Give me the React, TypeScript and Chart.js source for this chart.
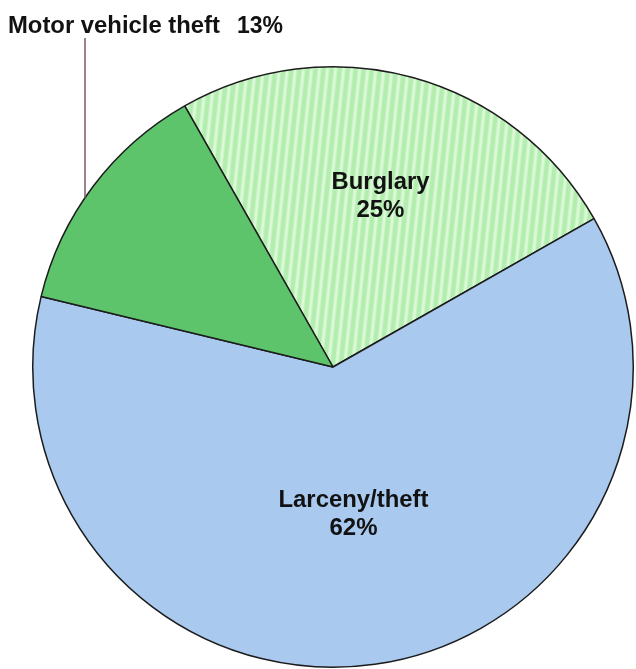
import React, { useEffect, useRef } from "react";
import { Chart, registerables } from "chart.js";

Chart.register(...registerables);

const categories = ["Burglary", "Larceny/theft", "Motor vehicle theft"];
const percentages = [25, 62, 13];
const percentLabels = ["25%", "62%", "13%"];
const sliceColors = ["#b5eeb2", "#a9c9ef", "#5dc46c"];

export default function App() {
  const ref = useRef<HTMLCanvasElement>(null);

  useEffect(() => {
    const canvas = ref.current!;
    const ctx = canvas.getContext("2d")!;

    // striped fill for Burglary
    const pc = document.createElement("canvas");
    pc.width = 8;
    pc.height = 8;
    const p = pc.getContext("2d")!;
    p.fillStyle = "#b3edb0";
    p.fillRect(0, 0, 8, 8);
    p.fillStyle = "#caf5c6";
    p.fillRect(3, 0, 1, 8);
    p.fillRect(6, 0, 1, 8);
    p.fillStyle = "#dcf9d8";
    p.fillRect(4, 0, 2, 8);
    const pattern = ctx.createPattern(pc, "repeat")!;
    try {
      pattern.setTransform(new DOMMatrix().rotate(6));
    } catch (e) {}

    const fills: any[] = [pattern, sliceColors[1], sliceColors[2]];

    const labelPlugin = {
      id: "sliceLabels",
      afterDatasetsDraw(chart: any) {
        const meta = chart.getDatasetMeta(0);
        const c = chart.ctx as CanvasRenderingContext2D;
        c.save();
        c.fillStyle = "#121212";
        c.font = "bold 24px 'Liberation Sans', Arial, sans-serif";
        c.textAlign = "center";
        c.textBaseline = "alphabetic";
        const radiusFrac = [0.595, 0.49];
        const maxW = [98, 150];
        meta.data.forEach((arc: any, i: number) => {
          const { x, y, startAngle, endAngle, outerRadius } = arc.getProps(
            ["x", "y", "startAngle", "endAngle", "outerRadius"],
            true
          );
          if (i < 2) {
            const mid = (startAngle + endAngle) / 2;
            const lx = x + Math.cos(mid) * radiusFrac[i] * outerRadius;
            const ly = y + Math.sin(mid) * radiusFrac[i] * outerRadius;
            c.fillText(categories[i], lx, ly - 6, maxW[i]);
            c.fillText(percentLabels[i], lx, ly + 22);
          } else {
            // outside label with leader line
            c.textAlign = "left";
            c.fillText(categories[i], 8, 33, 212);
            c.fillText(percentLabels[i], 237, 33, 46);
            const lineX = 85;
            const dx = lineX - x;
            const edgeY = y - Math.sqrt(Math.max(outerRadius * outerRadius - dx * dx, 0));
            c.strokeStyle = "#7d5a6e";
            c.lineWidth = 1.5;
            c.beginPath();
            c.moveTo(lineX, 38);
            c.lineTo(lineX, edgeY);
            c.stroke();
          }
        });
        c.restore();
      },
    };

    const chart = new Chart(canvas, {
      type: "pie",
      data: {
        labels: categories,
        datasets: [
          {
            data: percentages,
            backgroundColor: fills,
            borderColor: "#1c1c1c",
            borderWidth: 1.5,
            hoverOffset: 0,
          },
        ],
      },
      options: {
        responsive: false,
        animation: false,
        rotation: -29.6,
        layout: { padding: { left: 32, right: 2, top: 66, bottom: 1 } },
        plugins: {
          legend: { display: false },
          tooltip: { enabled: false },
        },
        events: [],
      },
      plugins: [labelPlugin],
    });

    return () => chart.destroy();
  }, []);

  return (
    <div
      style={{
        position: "fixed",
        left: 0,
        top: 0,
        width: 636,
        height: 669,
        overflow: "hidden",
        background: "#ffffff",
      }}
    >
      <canvas ref={ref} width={636} height={669} style={{ display: "block" }} />
    </div>
  );
}
